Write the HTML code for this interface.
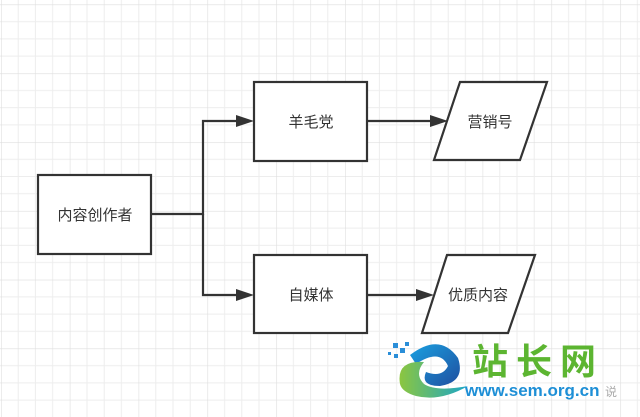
<!DOCTYPE html>
<html><head><meta charset="utf-8"><style>
html,body{margin:0;padding:0;background:#fff}
svg{display:block}
text{font-family:"Liberation Sans","Noto Sans CJK SC",sans-serif}
</style></head><body>
<svg width="640" height="417" viewBox="0 0 640 417" xmlns="http://www.w3.org/2000/svg">
<defs>
<pattern id="g" x="1" y="4.5" width="68.8" height="68.8" patternUnits="userSpaceOnUse">
<path d="M17.2 0V68.8M34.4 0V68.8M51.6 0V68.8M0 17.2H68.8M0 34.4H68.8M0 51.6H68.8" stroke="#ededed" stroke-width="1" fill="none"/>
<path d="M0 0V68.8M0 0H68.8" stroke="#dedede" stroke-width="1.2" fill="none"/>
</pattern>
<linearGradient id="lg" x1="0" y1="0" x2="1" y2="1"><stop offset="0" stop-color="#1aa0e0"/><stop offset="1" stop-color="#1f4fa0"/></linearGradient>
<linearGradient id="lg2" x1="0" y1="0" x2="1" y2="0"><stop offset="0" stop-color="#8cc63f"/><stop offset="1" stop-color="#1aa6c8"/></linearGradient>
</defs>
<rect width="640" height="417" fill="#fff"/>
<rect width="640" height="417" fill="url(#g)"/>
<g stroke="#333" stroke-width="2.2" fill="#fff">
<rect x="38" y="175" width="113" height="79"/>
<rect x="254" y="82" width="113" height="79"/>
<rect x="254" y="255" width="113" height="78"/>
<polygon points="460,82 547,82 520,160 434,160"/>
<polygon points="447,255 535,255 508,333 422,333"/>
</g>
<g stroke="#333" stroke-width="2.2" fill="none">
<path d="M151 214H203V121H238"/>
<path d="M203 214V295H238"/>
<path d="M367 121H432"/>
<path d="M367 295H418"/>
</g>
<g fill="#333">
<polygon points="254,121 236,115 236,127"/>
<polygon points="254,295 236,289 236,301"/>
<polygon points="448,121 430,115 430,127"/>
<polygon points="434,295 416,289 416,301"/>
</g>
<g fill="#333" font-size="15" text-anchor="middle">
<text x="95" y="220">内容创作者</text>
<text x="311" y="127">羊毛党</text>
<text x="311" y="300">自媒体</text>
<text x="490" y="127">营销号</text>
<text x="478" y="300">优质内容</text>
</g>
<g>
<path d="M410 355 Q440 332 458 358 Q466 382 440 386 Q420 386 426 372 Q442 378 448 366 Q440 348 416 364 Z" fill="url(#lg)"/>
<path d="M400 384 Q396 360 424 362 Q414 374 424 384 Q436 392 468 386 Q440 402 416 396 Q402 392 400 384Z" fill="url(#lg2)"/>
<g fill="#2a8ed8"><rect x="393" y="343" width="5" height="5"/><rect x="400" y="348" width="5" height="5"/><rect x="394" y="354" width="4" height="4"/><rect x="405" y="342" width="4" height="4"/><rect x="388" y="352" width="3" height="3"/></g>
<text x="472" y="374" font-size="36" fill="#5cb531" font-family="'Noto Serif CJK SC',serif" font-weight="bold" letter-spacing="8">站长网</text>
<text x="465" y="396" font-size="17" fill="#1e8fd6" font-weight="bold">www.sem.org.cn</text>
<text x="605" y="396" font-size="12" fill="#aaa">说</text>
</g>
</svg>
</body></html>
